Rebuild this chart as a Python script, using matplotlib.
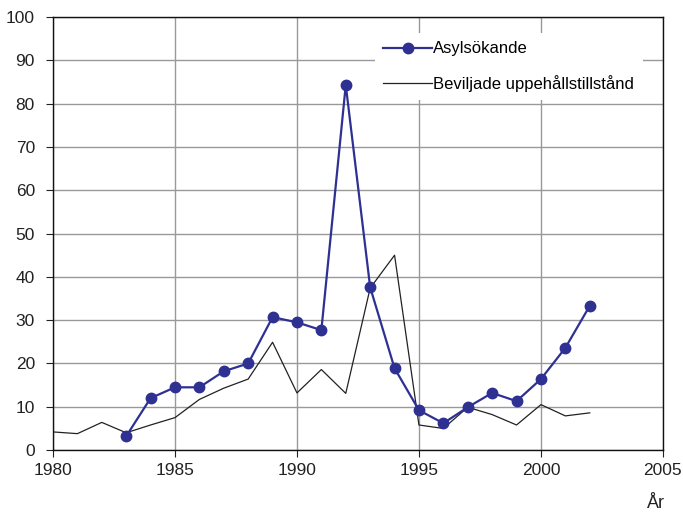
import matplotlib.pyplot as plt

plt.rcParams['font.family'] = ['Liberation Sans', 'DejaVu Sans']

asyl_years = list(range(1983, 2003))
asyl = [3.2, 12.0, 14.5, 14.5, 18.2, 20.0, 30.7, 29.5, 27.7, 84.3,
        37.6, 18.9, 9.2, 6.2, 9.9, 13.2, 11.3, 16.4, 23.6, 33.3]

bev_years = list(range(1980, 2003))
beviljade = [4.2, 3.8, 6.4, 4.0, 5.8, 7.5, 11.7, 14.3, 16.4, 24.9, 13.2, 18.6,
             13.1, 37.4, 45.0, 5.8, 5.0, 9.9, 8.2, 5.8, 10.5, 7.9, 8.6]

fig = plt.figure(figsize=(6.83, 5.15), dpi=100)
ax = fig.add_axes([0.0776, 0.126, 0.893, 0.841])

ax.plot(asyl_years, asyl, color='#2E3192', lw=1.6, marker='o', markersize=7.5,
        label='Asylsökande', zorder=3)
ax.plot(bev_years, beviljade, color='#222222', lw=0.9,
        label='Beviljade uppehållstillstånd', zorder=2)

ax.set_xlim(1980, 2005)
ax.set_ylim(0, 100)
ax.set_xticks(range(1980, 2006, 5))
ax.set_yticks(range(0, 101, 10))
ax.grid(True, color='#999999', lw=1)
ax.set_axisbelow(True)
ax.tick_params(direction='out', length=5, labelsize=12.5, colors='#222222')
ax.tick_params(axis='x', pad=4)
ax.tick_params(axis='y', pad=8)
for s in ax.spines.values():
    s.set_color('#111111')
    s.set_linewidth(1)

ax.text(0.988, -0.123, 'År', transform=ax.transAxes, fontsize=13, ha='center', va='center', color='#222222')

leg = ax.legend(loc='upper left', bbox_to_anchor=(0.528, 0.963), frameon=True, fontsize=12,
                handlelength=2.9, handletextpad=0.1, labelspacing=1.1, borderpad=0.5,
                borderaxespad=0)
leg.get_frame().set_edgecolor('none')
leg.get_frame().set_facecolor('white')
leg.get_frame().set_alpha(1)
leg.get_frame().set_boxstyle('square', pad=0)

fig.savefig('out.png', dpi=100)
